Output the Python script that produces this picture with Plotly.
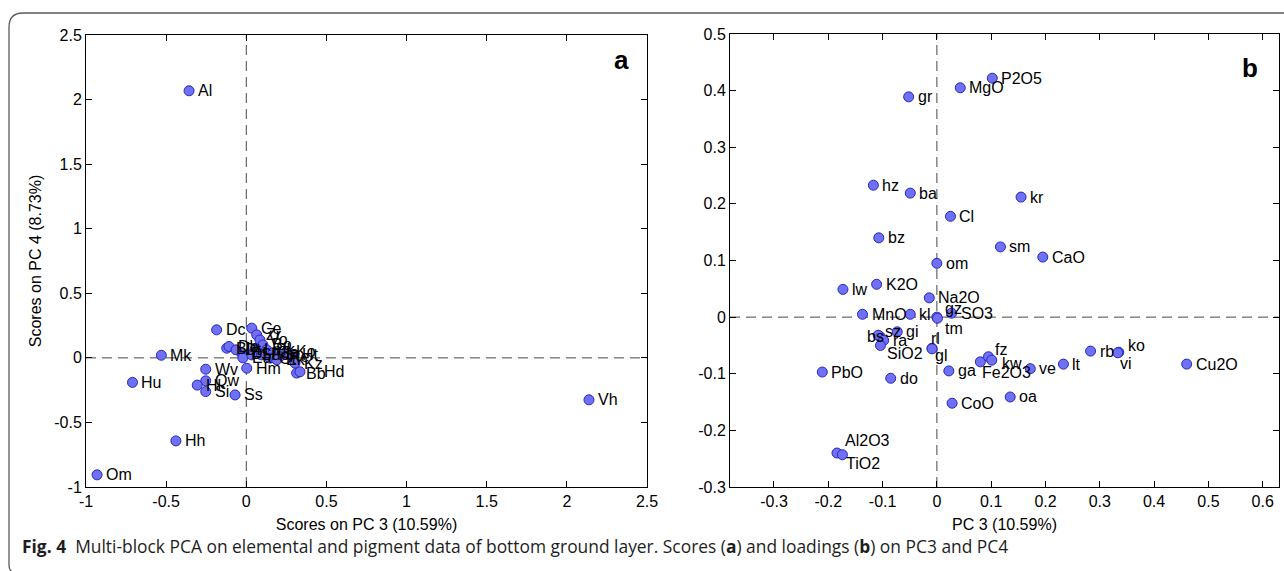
import plotly.graph_objects as go

W, H = 1284, 571

# ---------- Panel a: scores ----------
a_names = ["Al", "Dc", "Mk", "Hu", "Wv", "Qw", "Hl", "Si", "Ss", "Hm", "Hh", "Om", "Vh",
           "Ce", "Bl", "Db", "Dl", "Ea", "Zr", "Vo", "Bo", "Pk", "Ja", "Re", "Ko", "Ht",
           "Kz", "Bb", "Hd", "Fo", "Gt", "Lm", "Su", "Ek", "Dt"]
a_x = [-0.357, -0.185, -0.530, -0.710, -0.253, -0.253, -0.306, -0.253, -0.070, 0.003, -0.439, -0.931, 2.138,
       0.034, -0.122, -0.108, -0.029, -0.021, 0.065, 0.085, 0.104, 0.127, 0.167, 0.210, 0.252, 0.291,
       0.304, 0.314, 0.335, 0.095, 0.148, 0.054, 0.034, 0.190, -0.064]
a_y = [2.068, 0.217, 0.020, -0.190, -0.088, -0.178, -0.211, -0.261, -0.287, -0.080, -0.643, -0.906, -0.325,
       0.230, 0.075, 0.088, 0.036, 0.000, 0.178, 0.139, 0.100, 0.062, 0.039, 0.010, 0.049, 0.023,
       -0.041, -0.118, -0.108, 0.023, -0.002, 0.062, 0.023, -0.015, 0.062]

# ---------- Panel b: loadings ----------
b_names = ["P2O5", "MgO", "gr", "hz", "ba", "kr", "Cl", "bz", "sm", "CaO", "om", "K2O", "lw",
           "Na2O", "MnO", "kl", "SO3", "gz", "tm", "bs", "sz", "ra", "gi", "SiO2", "rl", "gl",
           "PbO", "do", "ga", "Fe2O3", "fz", "kw", "ve", "lt", "rb", "ko", "vi", "oa", "CoO",
           "Cu2O", "Al2O3", "TiO2"]
b_x = [0.102, 0.043, -0.052, -0.117, -0.049, 0.155, 0.025, -0.107, 0.117, 0.195, 0.000, -0.111, -0.173,
       -0.014, -0.137, -0.049, 0.027, 0.000, 0.001, -0.105, -0.108, -0.098, -0.073, -0.104, -0.009, -0.009,
       -0.211, -0.085, 0.022, 0.080, 0.095, 0.101, 0.172, 0.233, 0.283, 0.335, 0.333, 0.135, 0.028,
       0.460, -0.184, -0.174]
b_y = [0.422, 0.405, 0.389, 0.233, 0.219, 0.212, 0.178, 0.140, 0.124, 0.106, 0.095, 0.058, 0.049,
       0.034, 0.005, 0.005, 0.007, 0.000, -0.002, -0.034, -0.032, -0.041, -0.026, -0.050, -0.055, -0.056,
       -0.097, -0.108, -0.095, -0.079, -0.070, -0.076, -0.091, -0.083, -0.060, -0.062, -0.063, -0.141, -0.152,
       -0.083, -0.240, -0.243]

a_xticks = [-1, -0.5, 0, 0.5, 1, 1.5, 2, 2.5]
a_yticks = [-1, -0.5, 0, 0.5, 1, 1.5, 2, 2.5]
b_xticks = [-0.3, -0.2, -0.1, 0, 0.1, 0.2, 0.3, 0.4, 0.5, 0.6]
b_yticks = [-0.3, -0.2, -0.1, 0, 0.1, 0.2, 0.3, 0.4, 0.5]

# label pixel offsets (style only): name -> (dx, dy), dy positive = up
a_offsets = {"Hd": (22, 0)}
b_offsets = {"gz": (6, 9), "tm": (6, -10), "rl": (-3, 10), "gl": (1, -7),
             "ko": (7, 7), "vi": (0, -11), "Fe2O3": (0, -11), "fz": (5, 7), "kw": (8, -3),
             "Al2O3": (6, 13), "TiO2": (2, -9), "bs": (-15, 0), "sz": (5, 4), "SiO2": (5, -8)}

FONT = "Liberation Sans, Arial, sans-serif"
marker = dict(size=10, color="rgb(112,112,245)", line=dict(color="rgb(40,40,190)", width=1))

fig = go.Figure()
fig.add_trace(go.Scatter(x=a_x, y=a_y, mode="markers", marker=marker, hoverinfo="skip",
                         xaxis="x", yaxis="y", showlegend=False))
fig.add_trace(go.Scatter(x=b_x, y=b_y, mode="markers", marker=marker, hoverinfo="skip",
                         xaxis="x2", yaxis="y2", showlegend=False))

annotations = []
for names, xs, ys, offs, xr, yr in [(a_names, a_x, a_y, a_offsets, "x", "y"),
                                     (b_names, b_x, b_y, b_offsets, "x2", "y2")]:
    for nm, xv, yv in zip(names, xs, ys):
        dx, dy = offs.get(nm, (7, 0))
        annotations.append(dict(x=xv, y=yv, xref=xr, yref=yr, text=nm, showarrow=False,
                                xanchor="left", yanchor="middle", xshift=dx, yshift=dy,
                                font=dict(family=FONT, size=16, color="black")))


def px_x(p):
    return p / W


def px_y(p):
    return 1 - p / H


ax_common = dict(showline=True, linecolor="black", linewidth=1, mirror="ticks", ticks="inside",
                 ticklen=6, tickcolor="black", showgrid=False, zeroline=False, automargin=False,
                 tickfont=dict(family=FONT, size=16, color="black"))
title_font = dict(family=FONT, size=16, color="black")

fig.update_layout(
    width=W, height=H, margin=dict(l=0, r=0, t=0, b=0, autoexpand=False),
    paper_bgcolor="white", plot_bgcolor="white",
    xaxis=dict(domain=[px_x(86), px_x(647)], range=[-1, 2.5], tickvals=a_xticks,
               ticktext=[f"{v:g}" for v in a_xticks], anchor="y",
               title=dict(text="Scores on PC 3 (10.59%)", font=title_font, standoff=9), **ax_common),
    yaxis=dict(domain=[px_y(487), px_y(35)], range=[-1, 2.5], tickvals=a_yticks,
               ticktext=[f"{v:g}" for v in a_yticks], anchor="x",
               title=dict(text="Scores on PC 4 (8.73%)", font=title_font, standoff=8), **ax_common),
    xaxis2=dict(domain=[px_x(730), px_x(1279)], range=[-0.381, 0.63], tickvals=b_xticks,
                ticktext=[f"{v:g}" for v in b_xticks], anchor="y2",
                title=dict(text="PC 3 (10.59%)", font=title_font, standoff=9), **ax_common),
    yaxis2=dict(domain=[px_y(487), px_y(34)], range=[-0.3, 0.5], tickvals=b_yticks,
                ticktext=[f"{v:g}" for v in b_yticks], anchor="x2", **ax_common),
)

dash_line = dict(color="rgb(70,70,70)", width=1, dash="10px,6px")
shapes = [
    dict(type="line", xref="x", yref="y", x0=0, x1=0, y0=-1, y1=2.5, line=dash_line, layer="below"),
    dict(type="line", xref="x", yref="y", x0=-1, x1=2.5, y0=0, y1=0, line=dash_line, layer="below"),
    dict(type="line", xref="x2", yref="y2", x0=0, x1=0, y0=-0.3, y1=0.5, line=dash_line, layer="below"),
    dict(type="line", xref="x2", yref="y2", x0=-0.381, x1=0.63, y0=0, y1=0, line=dash_line, layer="below"),
]
# rounded figure frame
l, t, r, b, rad = 9, 13, 1284, 571, 14
path = (f"M {px_x(r)},{px_y(t)} L {px_x(l + rad)},{px_y(t)} "
        f"Q {px_x(l)},{px_y(t)} {px_x(l)},{px_y(t + rad)} "
        f"L {px_x(l)},{px_y(b - 6)} Q {px_x(l)},{px_y(b + 2)} {px_x(l + 8)},{px_y(b + 2)}")
shapes.append(dict(type="path", xref="paper", yref="paper", path=path,
                   line=dict(color="rgb(90,90,90)", width=1.3)))
fig.update_layout(shapes=shapes)

annotations.append(dict(x=px_x(621), y=px_y(60), xref="paper", yref="paper", text="<b>a</b>",
                        xanchor="center", yanchor="middle",
                        showarrow=False, font=dict(family=FONT, size=26, color="black")))
annotations.append(dict(x=px_x(1250), y=px_y(68), xref="paper", yref="paper", text="<b>b</b>",
                        xanchor="center", yanchor="middle",
                        showarrow=False, font=dict(family=FONT, size=26, color="black")))
annotations.append(dict(x=px_x(20), y=px_y(546), xref="paper", yref="paper", xanchor="left", yanchor="middle",
                        text="<b>Fig. 4</b>  Multi-block PCA on elemental and pigment data of bottom ground layer. "
                             "Scores (<b>a</b>) and loadings (<b>b</b>) on PC3 and PC4",
                        showarrow=False, font=dict(family="Open Sans, sans-serif", size=17.4, color="rgb(30,30,30)")))
fig.update_layout(annotations=annotations)

fig.write_html("out.html")
